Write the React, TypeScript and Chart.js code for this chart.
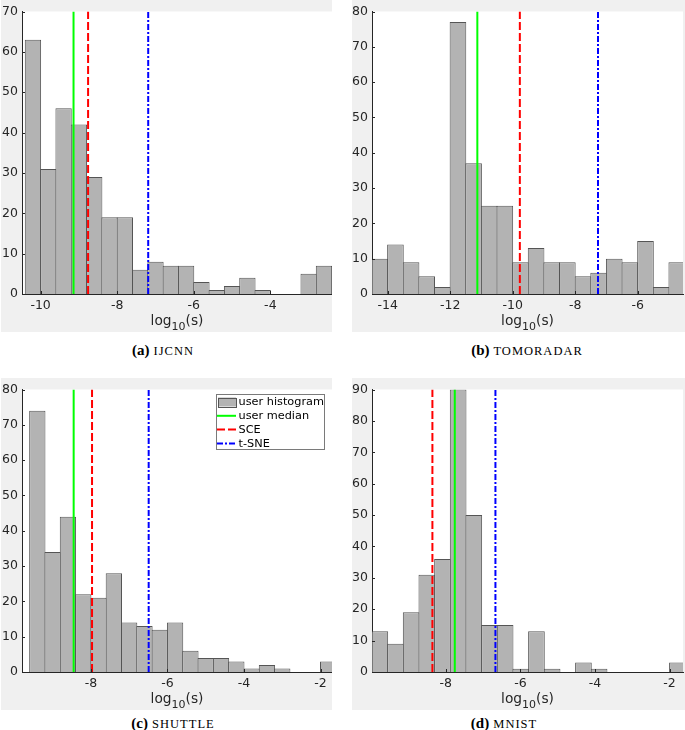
import React, { useEffect, useRef } from "react";
import { Chart, registerables } from "chart.js";

Chart.register(...registerables);

// ---- Series names ----
const seriesNames = ["user histogram", "user median", "SCE", "t-SNE"];

// ---- (a) IJCNN ----
const ijcnnCounts = [63, 31, 46, 42, 29, 19, 19, 6, 8, 7, 7, 3, 1, 2, 4, 1, 0, 0, 5, 7];
const ijcnnBinStart = -10.4;
const ijcnnBinWidth = 0.4;
const ijcnnRange = [-10.486, -2.39];
const ijcnnMarkers = [-9.14, -8.76, -7.19]; // user median, SCE, t-SNE
const ijcnnXTicks = [-10, -8, -6, -4];
const ijcnnYTicks = [0, 10, 20, 30, 40, 50, 60, 70];

// ---- (b) TOMORADAR ----
const tomoCounts = [10, 14, 9, 5, 2, 77, 37, 25, 25, 9, 13, 9, 9, 5, 6, 10, 9, 15, 2, 9];
const tomoBinStart = -14.5;
const tomoBinWidth = 0.5;
const tomoRange = [-14.5, -4.55];
const tomoMarkers = [-11.13, -9.77, -7.27];
const tomoXTicks = [-14, -12, -10, -8, -6];
const tomoYTicks = [0, 10, 20, 30, 40, 50, 60, 70, 80];

// ---- (c) SHUTTLE ----
const shuttleCounts = [74, 34, 44, 22, 21, 28, 14, 13, 12, 14, 6, 4, 4, 3, 1, 2, 1, 0, 0, 3];
const shuttleBinStart = -9.6;
const shuttleBinWidth = 0.4;
const shuttleRange = [-9.8, -1.7];
const shuttleMarkers = [-8.45, -7.97, -6.49];
const shuttleXTicks = [-8, -6, -4, -2];
const shuttleYTicks = [0, 10, 20, 30, 40, 50, 60, 70, 80];

// ---- (d) MNIST ----
const mnistCounts = [13, 9, 19, 31, 36, 90, 50, 15, 15, 1, 13, 1, 0, 3, 1, 0, 0, 0, 0, 3];
const mnistBinStart = -9.98;
const mnistBinWidth = 0.42;
const mnistRange = [-9.98, -1.64];
const mnistMarkers = [-7.76, -8.36, -6.67];
const mnistXTicks = [-8, -6, -4, -2];
const mnistYTicks = [0, 10, 20, 30, 40, 50, 60, 70, 80, 90];

const AXIS_COLOR = "#262626";
const FONT = "'DejaVu Sans', sans-serif";
const BAR_FILL = "#b3b3b3";
const BAR_EDGE = "#555555";
const MARKER_STYLES = [
  { color: "#00ff00", dash: [] as number[] },
  { color: "#ff0000", dash: [8, 3] },
  { color: "#0000ff", dash: [6, 2, 2, 2] },
];

type PanelProps = {
  left: number;
  top: number;
  width: number;
  height: number;
  yAxisWidth: number;
  rightPad: number;
  counts: number[];
  binStart: number;
  binWidth: number;
  range: number[];
  markers: number[];
  xTicks: number[];
  yTicks: number[];
  showLegend?: boolean;
};

function HistPanel(p: PanelProps) {
  const ref = useRef<HTMLCanvasElement>(null);

  useEffect(() => {
    const canvas = ref.current;
    if (!canvas) return;
    const yMax = p.yTicks[p.yTicks.length - 1];
    const plotW = p.width - p.yAxisWidth - p.rightPad;
    const binPx = (plotW / (p.range[1] - p.range[0])) * p.binWidth;
    const barData = p.counts.map((c, i) => ({ x: p.binStart + (i + 0.5) * p.binWidth, y: c }));

    const lineSets = p.markers.map((v, i) => ({
      type: "line" as const,
      label: seriesNames[i + 1],
      data: [
        { x: v, y: 0 },
        { x: v, y: yMax },
      ],
      borderColor: MARKER_STYLES[i].color,
      borderDash: MARKER_STYLES[i].dash,
      borderWidth: 2,
      pointRadius: 0,
      fill: false,
      order: 3 - i,
      clip: 0,
    }));

    const decor = {
      id: "decor",
      beforeDraw(chart: any) {
        const { ctx, chartArea: a } = chart;
        ctx.save();
        ctx.fillStyle = "#f0f0f0";
        ctx.fillRect(0, 0, chart.width, chart.height);
        ctx.fillStyle = "#ffffff";
        ctx.fillRect(a.left, a.top, a.right - a.left, a.bottom - a.top);
        ctx.restore();
      },
      afterDraw(chart: any) {
        const { ctx, chartArea: a, scales } = chart;
        ctx.save();
        // inward tick marks
        ctx.strokeStyle = AXIS_COLOR;
        ctx.lineWidth = 1;
        ctx.beginPath();
        for (const v of p.xTicks) {
          const x = Math.round(scales.x.getPixelForValue(v)) + 0.5;
          ctx.moveTo(x, a.bottom);
          ctx.lineTo(x, a.bottom - 3);
        }
        for (const v of p.yTicks) {
          const y = Math.round(scales.y.getPixelForValue(v)) + 0.5;
          ctx.moveTo(a.left, y);
          ctx.lineTo(a.left + 3, y);
        }
        ctx.stroke();

        // x axis title: log_10(s)
        const mainFont = `13.75px ${FONT}`;
        const subFont = `11px ${FONT}`;
        ctx.font = mainFont;
        const w1 = ctx.measureText("log").width;
        const w3 = ctx.measureText("(s)").width;
        ctx.font = subFont;
        const w2 = ctx.measureText("10").width;
        const total = w1 + w2 + w3;
        const cx = (a.left + a.right) / 2;
        const by = a.bottom + 31;
        let x = cx - total / 2;
        ctx.fillStyle = AXIS_COLOR;
        ctx.textBaseline = "alphabetic";
        ctx.textAlign = "left";
        ctx.font = mainFont;
        ctx.fillText("log", x, by);
        x += w1;
        ctx.font = subFont;
        ctx.fillText("10", x, by + 5);
        x += w2;
        ctx.font = mainFont;
        ctx.fillText("(s)", x, by);

        // legend
        if (p.showLegend) {
          const bw = 108;
          const bh = 55;
          const bx = Math.round(a.right - 8 - bw);
          const byy = Math.round(a.top + 4);
          ctx.fillStyle = "#ffffff";
          ctx.fillRect(bx, byy, bw, bh);
          ctx.strokeStyle = "#7a7a7a";
          ctx.lineWidth = 1;
          ctx.strokeRect(bx + 0.5, byy + 0.5, bw, bh);
          ctx.font = `11.3px ${FONT}`;
          ctx.textBaseline = "middle";
          ctx.textAlign = "left";
          seriesNames.forEach((name, i) => {
            const ry = byy + 8 + i * 13.8;
            if (i === 0) {
              ctx.fillStyle = BAR_FILL;
              ctx.fillRect(bx + 2, ry - 4.5, 18, 9);
              ctx.strokeStyle = BAR_EDGE;
              ctx.lineWidth = 1;
              ctx.strokeRect(bx + 2.5, Math.round(ry - 4.5) + 0.5, 18, 9);
            } else {
              const st = MARKER_STYLES[i - 1];
              ctx.strokeStyle = st.color;
              ctx.lineWidth = 2;
              ctx.setLineDash(st.dash);
              ctx.beginPath();
              ctx.moveTo(bx + 1, ry);
              ctx.lineTo(bx + 20, ry);
              ctx.stroke();
              ctx.setLineDash([]);
            }
            ctx.fillStyle = "#000000";
            ctx.fillText(name, bx + 22.5, ry + 0.5);
          });
        }
        ctx.restore();
      },
    };

    const tickFont = { family: FONT, size: 12.5 };

    const chart = new Chart(canvas, {
      type: "bar",
      data: {
        datasets: [
          {
            type: "bar",
            label: seriesNames[0],
            data: barData as any,
            backgroundColor: BAR_FILL,
            borderColor: BAR_EDGE,
            borderWidth: 1,
            borderSkipped: "start",
            barPercentage: 1 + 1 / binPx,
            categoryPercentage: 1,
            inflateAmount: 0,
            clip: 0,
            order: 5,
          } as any,
          ...(lineSets as any[]),
        ],
      },
      options: {
        responsive: false,
        maintainAspectRatio: false,
        devicePixelRatio: 1,
        animation: false,
        events: [],
        layout: { padding: { top: 6, right: p.rightPad, left: 0, bottom: 0 } },
        plugins: { legend: { display: false }, tooltip: { enabled: false } },
        scales: {
          x: {
            type: "linear",
            min: p.range[0],
            max: p.range[1],
            offset: false,
            z: 1,
            grid: { display: false, drawTicks: false, offset: false },
            border: { display: true, color: AXIS_COLOR, width: 1 },
            ticks: { font: tickFont, color: AXIS_COLOR, padding: 4, maxRotation: 0, autoSkip: false },
            afterBuildTicks: (s: any) => {
              s.ticks = p.xTicks.map((v) => ({ value: v }));
            },
            afterFit: (s: any) => {
              s.height = 38;
            },
          },
          y: {
            type: "linear",
            min: 0,
            max: yMax,
            z: 1,
            grid: { display: false, drawTicks: false },
            border: { display: true, color: AXIS_COLOR, width: 1 },
            ticks: { font: tickFont, color: AXIS_COLOR, padding: 4, autoSkip: false },
            afterBuildTicks: (s: any) => {
              s.ticks = p.yTicks.map((v) => ({ value: v }));
            },
            afterFit: (s: any) => {
              s.width = p.yAxisWidth;
            },
          },
        },
      } as any,
      plugins: [decor],
    });

    return () => chart.destroy();
  }, []);

  return (
    <canvas
      ref={ref}
      width={p.width}
      height={p.height}
      style={{ position: "absolute", left: p.left, top: p.top, width: p.width, height: p.height }}
    />
  );
}

function Caption({ cx, cy, tag, name }: { cx: number; cy: number; tag: string; name: string }) {
  return (
    <div
      style={{
        position: "absolute",
        left: cx - 150,
        top: cy - 10,
        width: 300,
        height: 20,
        lineHeight: "20px",
        textAlign: "center",
        fontFamily: "'Liberation Serif', serif",
        color: "#000",
        whiteSpace: "nowrap",
      }}
    >
      <span style={{ fontWeight: "bold", fontSize: 15 }}>{tag}</span>
      <span style={{ fontSize: 12.5, letterSpacing: 1 }}> {name}</span>
    </div>
  );
}

export default function App() {
  return (
    <div
      style={{
        position: "absolute",
        left: 0,
        top: 0,
        width: 685,
        height: 730,
        background: "#ffffff",
        overflow: "hidden",
      }}
    >
      <HistPanel
        left={1}
        top={0}
        width={331}
        height={332}
        yAxisWidth={21}
        rightPad={0}
        counts={ijcnnCounts}
        binStart={ijcnnBinStart}
        binWidth={ijcnnBinWidth}
        range={ijcnnRange}
        markers={ijcnnMarkers}
        xTicks={ijcnnXTicks}
        yTicks={ijcnnYTicks}
      />
      <HistPanel
        left={352}
        top={0}
        width={333}
        height={332}
        yAxisWidth={20}
        rightPad={2}
        counts={tomoCounts}
        binStart={tomoBinStart}
        binWidth={tomoBinWidth}
        range={tomoRange}
        markers={tomoMarkers}
        xTicks={tomoXTicks}
        yTicks={tomoYTicks}
      />
      <HistPanel
        left={1}
        top={378}
        width={331}
        height={332}
        yAxisWidth={21}
        rightPad={0}
        counts={shuttleCounts}
        binStart={shuttleBinStart}
        binWidth={shuttleBinWidth}
        range={shuttleRange}
        markers={shuttleMarkers}
        xTicks={shuttleXTicks}
        yTicks={shuttleYTicks}
        showLegend
      />
      <HistPanel
        left={352}
        top={378}
        width={333}
        height={332}
        yAxisWidth={20}
        rightPad={2}
        counts={mnistCounts}
        binStart={mnistBinStart}
        binWidth={mnistBinWidth}
        range={mnistRange}
        markers={mnistMarkers}
        xTicks={mnistXTicks}
        yTicks={mnistYTicks}
      />
      <Caption cx={163} cy={350} tag="(a)" name="IJCNN" />
      <Caption cx={527} cy={350} tag="(b)" name="TOMORADAR" />
      <Caption cx={173} cy={723} tag="(c)" name="SHUTTLE" />
      <Caption cx={504} cy={723} tag="(d)" name="MNIST" />
    </div>
  );
}
